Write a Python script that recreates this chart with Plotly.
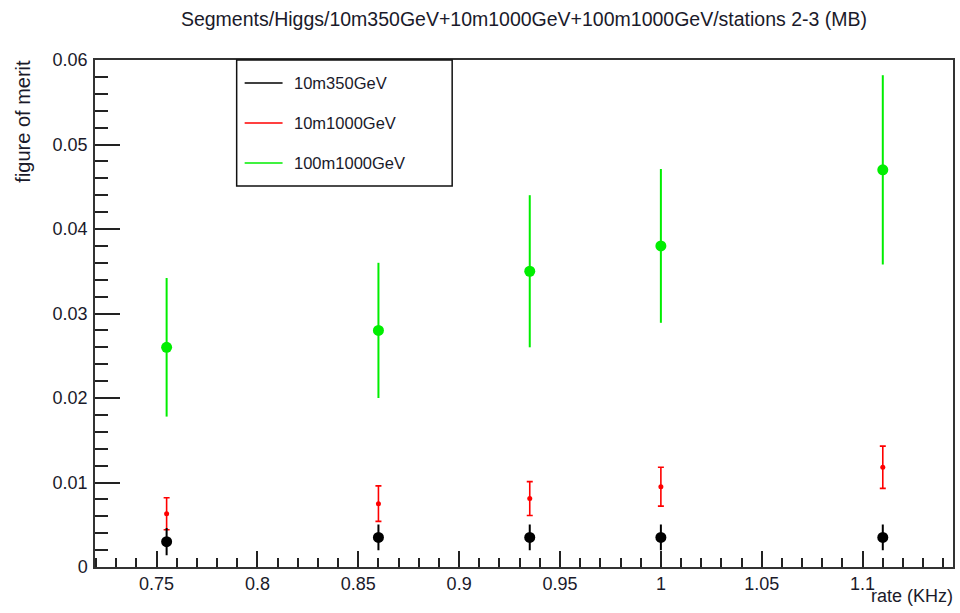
import plotly.graph_objects as go

rate = [0.755, 0.86, 0.935, 1.0, 1.11]

fom_10m350 = [0.0030, 0.0035, 0.0035, 0.0035, 0.0035]
err_10m350 = [0.0015, 0.0014, 0.0014, 0.0014, 0.0014]

fom_10m1000 = [0.0063, 0.0075, 0.0081, 0.0095, 0.0118]
err_10m1000 = [0.0019, 0.0021, 0.0020, 0.0023, 0.0025]

fom_100m1000 = [0.0260, 0.0280, 0.0350, 0.0380, 0.0470]
err_100m1000 = [0.0082, 0.0080, 0.0090, 0.0091, 0.0112]

names = ["10m350GeV", "10m1000GeV", "100m1000GeV"]
colors = ["#000000", "#ff0000", "#00ee00"]

W, H = 960, 613
L, R, T, B = 95, 5, 60, 46
PW, PH = W - L - R, H - T - B

def px(x):
    return (x - L) / PW

def py(y):
    return (H - B - y) / PH

fig = go.Figure()
fig.add_trace(go.Scatter(
    x=rate, y=fom_100m1000, mode="markers", name=names[2], showlegend=False,
    marker=dict(color=colors[2], size=11),
    error_y=dict(type="data", array=err_100m1000, color=colors[2], thickness=2, width=0)))
fig.add_trace(go.Scatter(
    x=rate, y=fom_10m1000, mode="markers", name=names[1], showlegend=False,
    marker=dict(color=colors[1], size=5),
    error_y=dict(type="data", array=err_10m1000, color=colors[1], thickness=1.6, width=3)))
fig.add_trace(go.Scatter(
    x=rate, y=fom_10m350, mode="markers", name=names[0], showlegend=False,
    marker=dict(color=colors[0], size=11),
    error_y=dict(type="data", array=err_10m350, color=colors[0], thickness=2, width=1)))

font = "Liberation Sans, Arial, sans-serif"
tickc = "#222222"
txtc = "#1a1a2a"

fig.update_layout(
    width=W, height=H,
    margin=dict(l=L, r=R, t=T, b=B),
    paper_bgcolor="white", plot_bgcolor="white",
    showlegend=False,
    font=dict(family=font, size=18, color=txtc),
    title=dict(text="Segments/Higgs/10m350GeV+10m1000GeV+100m1000GeV/stations 2-3 (MB)",
               x=0.5, xanchor="center", y=1 - 19 / H, yanchor="middle",
               xref="paper",
               font=dict(family=font, size=19.5, color=txtc)),
    xaxis=dict(range=[0.7195, 1.1448], tick0=0, dtick=0.05, ticks="inside", ticklen=16,
               tickwidth=1.5, tickcolor=tickc, showgrid=False, zeroline=False,
               showline=True, linecolor="#333333", linewidth=1.5, mirror=True,
               tickfont=dict(size=18, color=txtc),
               minor=dict(dtick=0.01, tick0=0, ticks="inside", ticklen=9, tickwidth=1.5,
                          tickcolor=tickc, showgrid=False)),
    yaxis=dict(range=[0, 0.06], tick0=0, dtick=0.01, ticks="inside", ticklen=25,
               tickwidth=1.5, tickcolor=tickc, showgrid=False, zeroline=False,
               showline=True, linecolor="#333333", linewidth=1.5, mirror=True,
               tickfont=dict(size=18, color=txtc), ticklabelstandoff=2,
               minor=dict(dtick=0.002, tick0=0, ticks="inside", ticklen=13, tickwidth=1.5,
                          tickcolor=tickc, showgrid=False)),
)

# axis titles (ROOT-style placement)
fig.add_annotation(text="figure of merit", xref="paper", yref="paper",
                   x=px(22), y=py(58), xanchor="center", yanchor="top",
                   textangle=-90, showarrow=False, font=dict(size=20, color=txtc))
fig.add_annotation(text="rate (KHz)", xref="paper", yref="paper",
                   x=px(957), y=py(596), xanchor="right", yanchor="middle",
                   showarrow=False, font=dict(size=18, color=txtc))

# manual ROOT-like legend box
fig.add_shape(type="rect", xref="paper", yref="paper",
              x0=px(237), x1=px(453), y0=py(186), y1=py(60),
              line=dict(color="#111111", width=1.5), fillcolor="white", layer="above")
rows = [83, 123, 163]
for nm, c, yy in zip(names, colors, rows):
    fig.add_shape(type="line", xref="paper", yref="paper",
                  x0=px(245), x1=px(283), y0=py(yy), y1=py(yy),
                  line=dict(color=c, width=1.5), layer="above")
    fig.add_annotation(text=nm, xref="paper", yref="paper", x=px(292), y=py(yy),
                       xanchor="left", yanchor="middle", showarrow=False,
                       font=dict(size=16.5, color=txtc))

fig.write_html("out.html")
